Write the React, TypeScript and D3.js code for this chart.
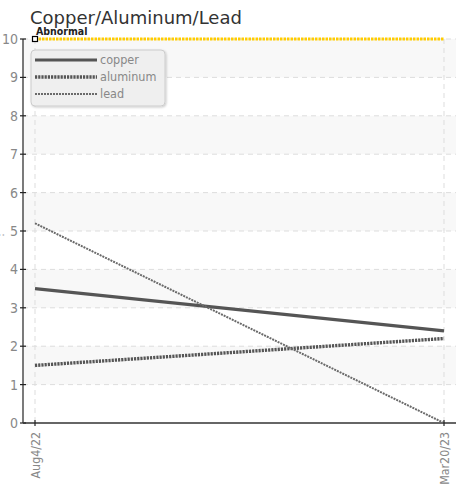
import React from "react";
import * as d3 from "d3";

const dates = ["Aug4/22", "Mar20/23"];
const copper = [3.5, 2.4];
const aluminum = [1.5, 2.2];
const lead = [5.2, 0];
const abnormal = [10, 10];
const yTicks = [0, 1, 2, 3, 4, 5, 6, 7, 8, 9, 10];
const seriesNames = ["copper", "aluminum", "lead"];

const W = 458, H = 486;
const left = 23, right = 456, top = 39, bottom = 423;

export default function App() {
  const y = d3.scaleLinear().domain([0, 10]).range([bottom, top]);
  const x = d3.scalePoint<string>().domain(dates).range([35, 444]);
  const line = d3.line<number>().x((_, i) => x(dates[i])!).y((d) => y(d));
  const styles = [
    { w: 3.2, dash: "none", color: "#555" },
    { w: 3.4, dash: "2.2,1", color: "#555" },
    { w: 2, dash: "2,1", color: "#6a6a6a" },
  ];
  const series = [copper, aluminum, lead];
  const bands = yTicks.filter((t) => t % 2 === 1);
  const tickFont = "'DejaVu Sans Condensed', 'Liberation Sans Narrow', Roboto, sans-serif";
  return (
    <svg width={W} height={H} style={{ position: "absolute", left: 0, top: 0 }}>
      <defs>
        <filter id="sh" x="-10%" y="-10%" width="130%" height="140%">
          <feDropShadow dx="1" dy="1" stdDeviation="1" floodColor="#000" floodOpacity="0.2" />
        </filter>
      </defs>
      <rect width={W} height={H} fill="#fff" />
      <text x={30} y={24} fontSize={18} fill="#333" fontFamily="'DejaVu Sans', sans-serif">
        Copper/Aluminum/Lead
      </text>
      {bands.map((t) => (
        <rect key={t} x={left} y={y(t + 1)} width={right - left} height={y(t) - y(t + 1)} fill="#f8f8f8" />
      ))}
      {yTicks.map((t) => (
        <line key={t} x1={left} x2={right} y1={y(t)} y2={y(t)} stroke="#ddd" strokeDasharray="5,4" />
      ))}
      {dates.map((d) => (
        <line key={d} x1={x(d)} x2={x(d)} y1={top} y2={bottom} stroke="#ddd" strokeDasharray="5,4" />
      ))}
      <text
        transform={`translate(4,${(top + bottom) / 2 + 4}) rotate(-90)`}
        fontSize={11}
        fill="#888"
        textAnchor="middle"
        fontFamily={tickFont}
      >
        :
      </text>
      {series.map((s, i) => (
        <path
          key={i}
          d={line(s)!}
          fill="none"
          stroke={styles[i].color}
          strokeWidth={styles[i].w}
          strokeDasharray={styles[i].dash}
        />
      ))}
      <path d={line(abnormal)!} fill="none" stroke="#ffcc00" strokeWidth={3} strokeDasharray="2.5,1" />
      <rect x={x(dates[0])! - 2.5} y={y(10) - 2.5} width={5} height={5} fill="#fff" stroke="#000" strokeWidth={1.2} />
      <text x={36} y={35} fontSize={10.5} fontWeight="bold" fill="#222" fontFamily={tickFont}>
        Abnormal
      </text>
      <line x1={left} x2={left} y1={top} y2={bottom} stroke="#222" strokeWidth={1.2} />
      <line x1={left} x2={right} y1={bottom} y2={bottom} stroke="#666" strokeWidth={2} />
      {yTicks.map((t) => (
        <g key={t}>
          <line x1={left - 3} x2={left + 3} y1={y(t)} y2={y(t)} stroke="#222" strokeWidth={1.2} />
          <text x={18} y={y(t) + 5} fontSize={14} fill="#888" textAnchor="end" fontFamily={tickFont}>
            {t}
          </text>
        </g>
      ))}
      {dates.map((d) => (
        <g key={d}>
          <line x1={x(d)} x2={x(d)} y1={bottom - 3} y2={bottom + 3} stroke="#222" strokeWidth={1.2} />
          <text
            transform={`translate(${x(d)! + 4.5},${bottom + 9}) rotate(-90)`}
            fontSize={12.3}
            fill="#888"
            textAnchor="end"
            fontFamily={tickFont}
          >
            {d}
          </text>
        </g>
      ))}
      <rect x={31} y={50} width={134} height={56} rx={4} fill="#efefef" stroke="#ccc" filter="url(#sh)" />
      {seriesNames.map((n, i) => (
        <g key={n}>
          <line
            x1={35}
            x2={97}
            y1={60 + i * 17}
            y2={60 + i * 17}
            stroke={styles[i].color}
            strokeWidth={styles[i].w}
            strokeDasharray={styles[i].dash}
          />
          <text x={100} y={64 + i * 17} fontSize={12.5} fill="#888" fontFamily={tickFont}>
            {n}
          </text>
        </g>
      ))}
    </svg>
  );
}
